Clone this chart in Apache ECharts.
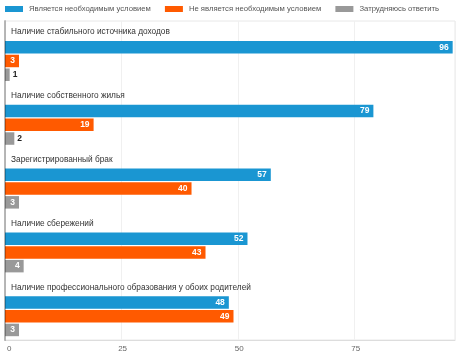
<!DOCTYPE html>
<html><head><meta charset="utf-8">
<script src="https://cdn.jsdelivr.net/npm/echarts@6/dist/echarts.min.js"></script>
<style>html,body{margin:0;padding:0;background:#fff}#c{width:457px;height:355px}</style>
</head><body><div id="c"></div>
<script>
const categories = [
  'Наличие стабильного источника доходов',
  'Наличие собственного жилья',
  'Зарегистрированный брак',
  'Наличие сбережений',
  'Наличие профессионального образования у обоих родителей'
];
const seriesNames = ['Является необходимым условием', 'Не является необходимым условием', 'Затрудняюсь ответить'];
const necessary = [96, 79, 57, 52, 48];
const notNecessary = [3, 19, 40, 43, 49];
const unsure = [1, 2, 3, 4, 3];
const xTicks = [0, 25, 50, 75];

const colors = ['#1a96d2', '#ff5a00', '#999999'];
const FONT = '"Liberation Sans", Arial, sans-serif';

function valueData(arr) {
  return arr.map(v => {
    const inside = v >= 3;
    return {
      value: v,
      label: inside
        ? { position: 'insideRight', distance: 4, color: '#fff' }
        : { position: 'right', distance: 3, color: '#222' }
    };
  });
}

const chart = echarts.init(document.getElementById('c'), null, { renderer: 'canvas' });
chart.setOption({
  animation: false,
  textStyle: { fontFamily: FONT },
  legend: {
    data: seriesNames,
    left: 5, top: 5, padding: 0,
    itemWidth: 18, itemHeight: 6, itemGap: 14,
    icon: 'rect',
    textStyle: { fontSize: 7.7, color: '#555', fontFamily: FONT, padding: [0, 0, 0, 1] }
  },
  grid: { left: 5, right: 2, top: 21, bottom: 15, containLabel: false, show: true, borderColor: '#e8e8e8', borderWidth: 1 },
  xAxis: {
    type: 'value', min: 0, max: 96.5, interval: 25,
    axisLine: { show: true, lineStyle: { color: '#ddd' } },
    axisTick: { show: false },
    axisLabel: { fontSize: 8, color: '#666', margin: 5, showMaxLabel: false, alignMinLabel: 'left',
      padding: [0, 0, 0, 2],
      formatter: v => xTicks.includes(v) ? String(v) : '' },
    splitLine: { show: true, lineStyle: { color: '#f0f0f0' } }
  },
  yAxis: {
    type: 'category', data: categories, inverse: true, z: 5,
    axisLine: { show: true, lineStyle: { color: 'rgba(0,0,0,0.25)', width: 2 } },
    axisTick: { show: false },
    axisLabel: { show: false },
    splitLine: { show: false }
  },
  series: [
    {
      name: 'cat', type: 'bar', barWidth: 14.7, silent: true,
      data: categories.map(() => 0),
      itemStyle: { color: 'transparent' },
      label: { show: true, position: 'right', distance: 6, color: '#333', fontSize: 8.3,
        fontFamily: FONT, formatter: p => p.name }
    },
    { name: seriesNames[0], type: 'bar', barWidth: 12.5, barGap: '10%', data: valueData(necessary),
      itemStyle: { color: colors[0] },
      label: { show: true, fontSize: 8.5, fontWeight: 'bold', fontFamily: FONT } },
    { name: seriesNames[1], type: 'bar', barWidth: 12.5, barGap: '10%', data: valueData(notNecessary),
      itemStyle: { color: colors[1] },
      label: { show: true, fontSize: 8.5, fontWeight: 'bold', fontFamily: FONT } },
    { name: seriesNames[2], type: 'bar', barWidth: 12.5, barGap: '10%', data: valueData(unsure),
      itemStyle: { color: colors[2] },
      label: { show: true, fontSize: 8.5, fontWeight: 'bold', fontFamily: FONT } }
  ]
});
</script></body></html>
